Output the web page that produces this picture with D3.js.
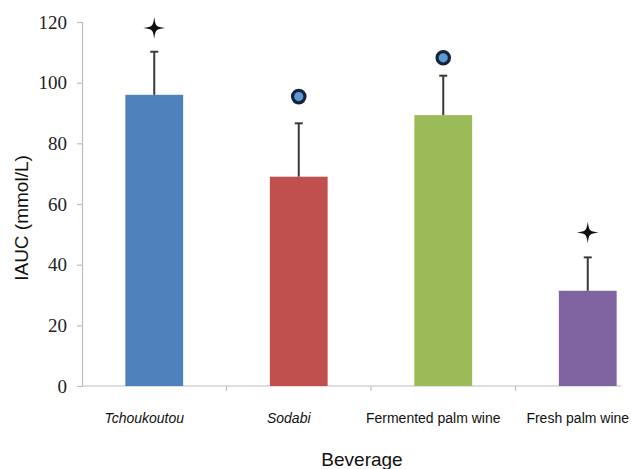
<!DOCTYPE html>
<html>
<head>
<meta charset="utf-8">
<script src="https://cdn.jsdelivr.net/npm/d3@7"></script>
<style>
  html, body { margin: 0; padding: 0; background: #fff; }
  svg { display: block; }
</style>
</head>
<body>
<svg id="chart" width="639" height="469"></svg>
<script>
// ---- data ----
const categories = ["Tchoukoutou", "Sodabi", "Fermented palm wine", "Fresh palm wine"];
const italicLabels = [true, true, false, false];
const values = [96, 69, 89.3, 31.4];
const errors = [14.2, 17.6, 13.0, 11.0];
const markerTypes = ["star", "circle", "circle", "star"];
const markerValues = [118, 95.4, 108.2, 50.6];
const yTicks = [0, 20, 40, 60, 80, 100, 120];
const colors = ["#4f81bd", "#c0504d", "#9bbb59", "#8064a2"];
const yTitle = "IAUC (mmol/L)";
const xTitle = "Beverage";

// ---- layout ----
const svg = d3.select("#chart");
const mLeft = 82, mRight = 660, mTop = 22, mBottom = 386;

const x = d3.scaleBand().domain(categories).range([mLeft, mRight]).paddingInner(0.6).paddingOuter(0.3);
const y = d3.scaleLinear().domain([0, 120]).range([mBottom, mTop]);

// y axis
const yAxis = d3.axisLeft(y).tickValues(yTicks).tickSize(5).tickPadding(10);
const gy = svg.append("g").attr("transform", `translate(${mLeft},0)`).call(yAxis);
gy.select(".domain").attr("stroke", "#bdbdbd").attr("stroke-width", 1.2);
gy.selectAll(".tick line").attr("stroke", "#bdbdbd").attr("stroke-width", 1.2);
gy.selectAll(".tick text")
  .attr("font-family", "'Liberation Serif', 'Times New Roman', serif")
  .attr("font-size", 19)
  .attr("fill", "#222");

// x axis (custom domain line ending short of the last band edge)
const xTickPos = categories.slice(1).map(c => x(c) - x.step() * x.paddingInner() / 2);
svg.append("line")
  .attr("x1", mLeft).attr("x2", x(categories[3]) + x.bandwidth() + 5)
  .attr("y1", y(0)).attr("y2", y(0))
  .attr("stroke", "#bdbdbd").attr("stroke-width", 1.2);
svg.selectAll(".xtick").data(xTickPos).enter().append("line")
  .attr("class", "xtick")
  .attr("x1", d => d).attr("x2", d => d)
  .attr("y1", y(0)).attr("y2", y(0) + 5)
  .attr("stroke", "#bdbdbd").attr("stroke-width", 1.2);

// bars
svg.selectAll(".bar").data(categories).enter().append("rect")
  .attr("class", "bar")
  .attr("x", d => x(d))
  .attr("width", x.bandwidth())
  .attr("y", (d, i) => y(values[i]))
  .attr("height", (d, i) => y(0) - y(values[i]))
  .attr("fill", (d, i) => colors[i]);

// error bars (upper only)
const eb = svg.selectAll(".err").data(categories).enter().append("g").attr("class", "err");
eb.append("line")
  .attr("x1", d => x(d) + x.bandwidth() / 2).attr("x2", d => x(d) + x.bandwidth() / 2)
  .attr("y1", (d, i) => y(values[i])).attr("y2", (d, i) => y(values[i] + errors[i]))
  .attr("stroke", "#3a3a3a").attr("stroke-width", 2);
eb.append("line")
  .attr("x1", d => x(d) + x.bandwidth() / 2 - 4).attr("x2", d => x(d) + x.bandwidth() / 2 + 4)
  .attr("y1", (d, i) => y(values[i] + errors[i])).attr("y2", (d, i) => y(values[i] + errors[i]))
  .attr("stroke", "#3a3a3a").attr("stroke-width", 2);

// markers
const starPath = (r) => {
  const w = r * 0.13;
  return `M0,${-r} C${w},${-w} ${w},${-w} ${r},0 C${w},${w} ${w},${w} 0,${r} C${-w},${w} ${-w},${w} ${-r},0 C${-w},${-w} ${-w},${-w} 0,${-r} Z`;
};
categories.forEach((c, i) => {
  const cx = x(c) + x.bandwidth() / 2, cy = y(markerValues[i]);
  if (markerTypes[i] === "star") {
    svg.append("path").attr("d", starPath(11)).attr("transform", `translate(${cx},${cy})`).attr("fill", "#111");
  } else {
    svg.append("circle").attr("cx", cx).attr("cy", cy).attr("r", 6.2)
      .attr("fill", "#5b9bd5").attr("stroke", "#15243a").attr("stroke-width", 3.2);
  }
});

// x category labels
svg.selectAll(".xlab").data(categories).enter().append("text")
  .attr("class", "xlab")
  .attr("x", d => x(d) + x.bandwidth() / 2 - 10)
  .attr("y", 423)
  .attr("text-anchor", "middle")
  .attr("font-family", "'Liberation Sans', Arial, sans-serif")
  .attr("font-size", 14)
  .attr("font-style", (d, i) => italicLabels[i] ? "italic" : "normal")
  .attr("fill", "#111")
  .text(d => d);

// axis titles
svg.append("text")
  .attr("transform", `translate(28,218) rotate(-90)`)
  .attr("text-anchor", "middle")
  .attr("font-family", "'Liberation Sans', Arial, sans-serif")
  .attr("font-size", 19)
  .attr("fill", "#111")
  .text(yTitle);

svg.append("text")
  .attr("x", 362).attr("y", 466)
  .attr("text-anchor", "middle")
  .attr("font-family", "'Liberation Sans', Arial, sans-serif")
  .attr("font-size", 19)
  .attr("fill", "#111")
  .text(xTitle);
</script>
</body>
</html>
